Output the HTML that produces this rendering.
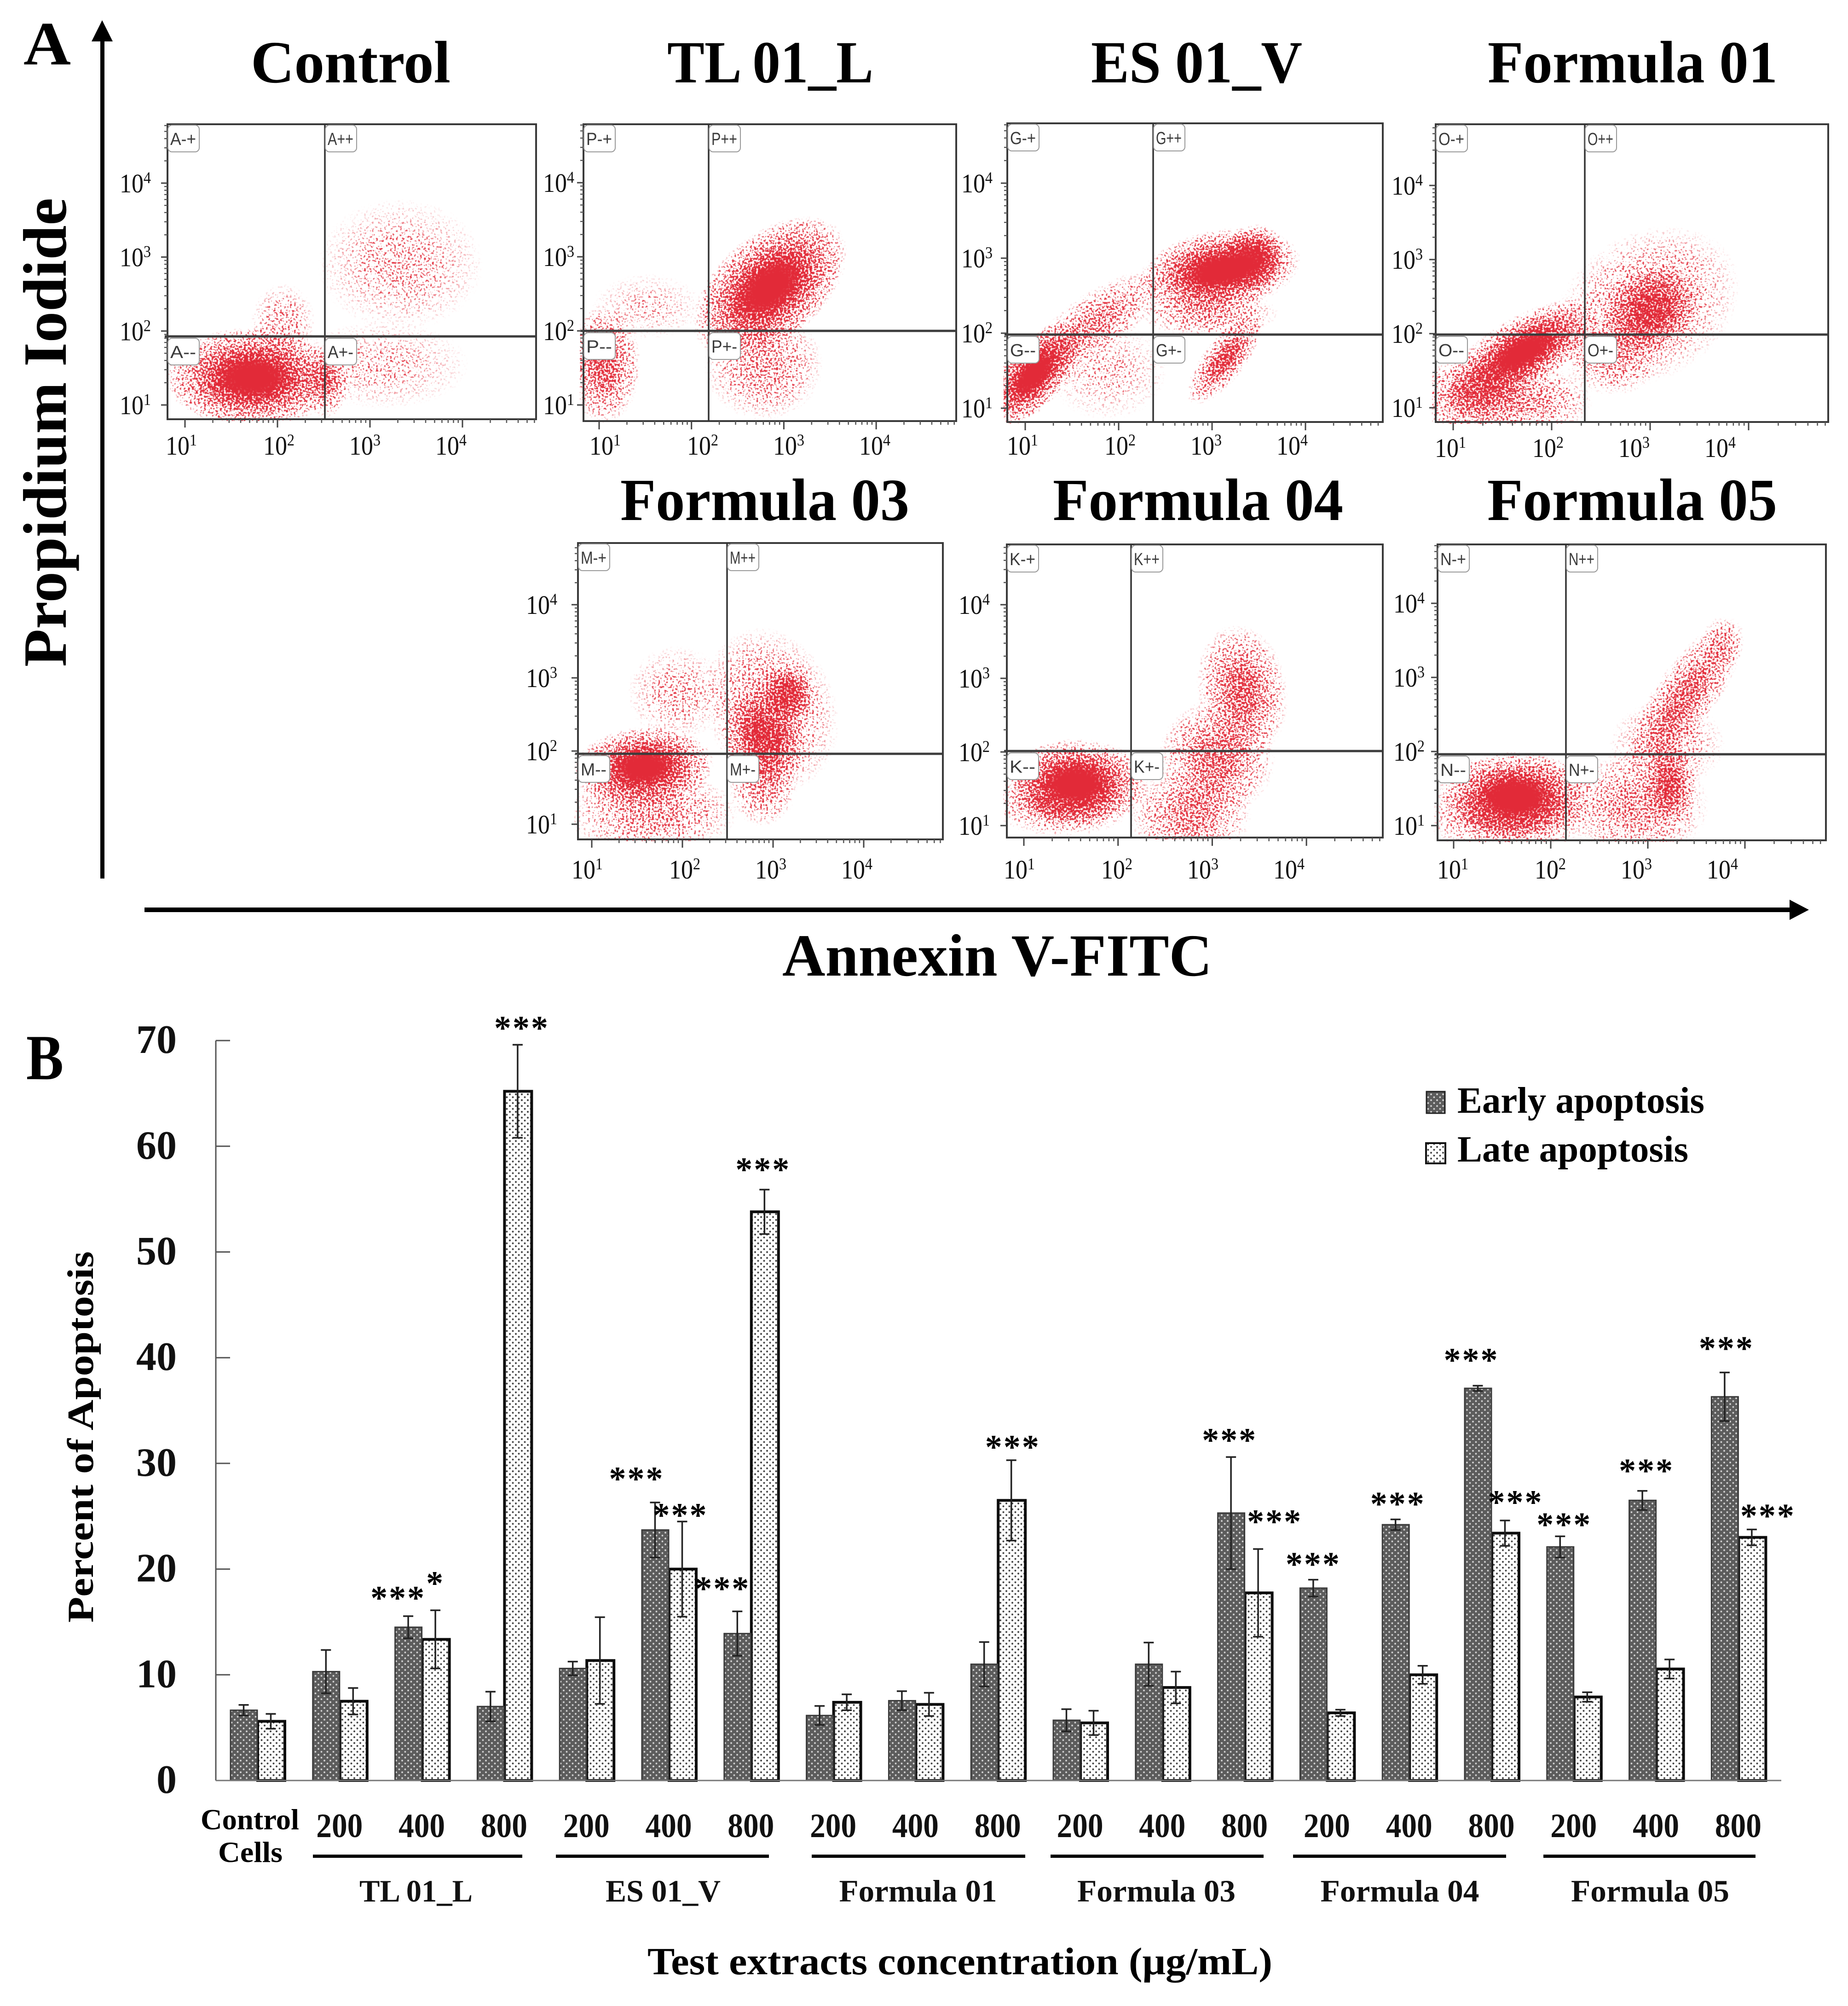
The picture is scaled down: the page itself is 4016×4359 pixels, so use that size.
<!DOCTYPE html>
<html lang="en">
<head>
<meta charset="utf-8">
<title>Apoptosis flow cytometry and bar chart</title>
<style>
html,body{margin:0;padding:0;background:#fff;width:4016px;height:4359px;overflow:hidden}
svg{display:block;font-family:"Liberation Serif",serif}
</style>
</head>
<body>
<svg id="figure" xmlns="http://www.w3.org/2000/svg" width="4016" height="4359" viewBox="0 0 4016 4359">
  <defs>
    <radialGradient id="cloud">
      <stop offset="0" stop-color="#e0283a" stop-opacity="1"/>
      <stop offset="0.3" stop-color="#e0283a" stop-opacity="0.9"/>
      <stop offset="0.52" stop-color="#e0283a" stop-opacity="0.55"/>
      <stop offset="0.76" stop-color="#e0283a" stop-opacity="0.28"/>
      <stop offset="1" stop-color="#e0283a" stop-opacity="0"/>
    </radialGradient>
    <pattern id="early-dots" patternUnits="userSpaceOnUse" width="13" height="12.7">
      <rect width="13" height="12.7" fill="#5c5c5c"/>
      <circle cx="3" cy="3" r="1.9" fill="#d4d4d4"/>
      <circle cx="9.5" cy="9.3" r="1.9" fill="#d4d4d4"/>
    </pattern>
    <pattern id="late-dots" patternUnits="userSpaceOnUse" width="13" height="12.7">
      <rect width="13" height="12.7" fill="#fff"/>
      <circle cx="3" cy="3" r="2" fill="#444"/>
      <circle cx="9.5" cy="9.3" r="2" fill="#444"/>
    </pattern>
  </defs>
  <rect width="4016" height="4359" fill="#fff"/>

  <text x="51" y="140" font-size="134" font-weight="bold" textLength="103" lengthAdjust="spacingAndGlyphs">A</text>
  <text x="57" y="2345" font-size="140" font-weight="bold" textLength="81" lengthAdjust="spacingAndGlyphs">B</text>

  <text x="545" y="179" font-size="130" font-weight="bold" textLength="434" lengthAdjust="spacingAndGlyphs">Control</text>
  <text x="1450" y="179" font-size="130" font-weight="bold" textLength="448" lengthAdjust="spacingAndGlyphs">TL 01_L</text>
  <text x="2371" y="179" font-size="130" font-weight="bold" textLength="459" lengthAdjust="spacingAndGlyphs">ES 01_V</text>
  <text x="3233" y="179" font-size="130" font-weight="bold" textLength="630" lengthAdjust="spacingAndGlyphs">Formula 01</text>
  <text x="1348" y="1130" font-size="130" font-weight="bold" textLength="628" lengthAdjust="spacingAndGlyphs">Formula 03</text>
  <text x="2288" y="1130" font-size="130" font-weight="bold" textLength="631" lengthAdjust="spacingAndGlyphs">Formula 04</text>
  <text x="3232" y="1130" font-size="130" font-weight="bold" textLength="630" lengthAdjust="spacingAndGlyphs">Formula 05</text>

  <text transform="translate(143 1449) rotate(-90)" font-size="134" font-weight="bold" textLength="1019" lengthAdjust="spacingAndGlyphs">Propidium Iodide</text>
  <text x="1700" y="2120" font-size="130" font-weight="bold" textLength="934" lengthAdjust="spacingAndGlyphs">Annexin V-FITC</text>

  <rect x="218" y="85" width="9" height="1824" fill="#000"/>
  <polygon points="222,44 199,90 245,90" fill="#000"/>
  <rect x="314" y="1972" width="3580" height="10" fill="#000"/>
  <polygon points="3931,1977 3889,1955 3889,1999" fill="#000"/>

  <g id="panels"></g>
  <g id="chart"></g>

  <text transform="translate(202 3526) rotate(-90)" font-size="80" font-weight="bold" textLength="807" lengthAdjust="spacingAndGlyphs">Percent of Apoptosis</text>
  <text x="1407" y="4290" font-size="84" font-weight="bold" textLength="1358" lengthAdjust="spacingAndGlyphs">Test extracts concentration (μg/mL)</text>
  <text x="436" y="3975" font-size="64" font-weight="bold" textLength="214" lengthAdjust="spacingAndGlyphs">Control</text>
  <text x="474" y="4046" font-size="64" font-weight="bold" textLength="140" lengthAdjust="spacingAndGlyphs">Cells</text>

  <rect x="3100" y="2372" width="40" height="47" fill="url(#early-dots)" stroke="#222" stroke-width="3"/>
  <text x="3167" y="2418" font-size="80" font-weight="bold" textLength="537" lengthAdjust="spacingAndGlyphs">Early apoptosis</text>
  <rect x="3099" y="2484" width="42" height="44" fill="url(#late-dots)" stroke="#111" stroke-width="4"/>
  <text x="3167" y="2524" font-size="80" font-weight="bold" textLength="502" lengthAdjust="spacingAndGlyphs">Late apoptosis</text>

<script>
// ---------- Bar chart data (percent of apoptosis) ----------
const yTickValues = [0, 10, 20, 30, 40, 50, 60, 70];
const concentrationLabels = ['', '200', '400', '800', '200', '400', '800', '200', '400', '800', '200', '400', '800', '200', '400', '800', '200', '400', '800'];
const groupLabels = ['TL 01_L', 'ES 01_V', 'Formula 01', 'Formula 03', 'Formula 04', 'Formula 05'];
const earlyValues = [6.65, 10.3, 14.5, 7.0, 10.6, 23.7, 13.9, 6.15, 7.55, 11.0, 5.7, 11.0, 25.3, 18.2, 24.2, 37.1, 22.1, 26.5, 36.3];
const lateValues = [5.6, 7.5, 13.35, 65.2, 11.35, 20.0, 53.8, 7.4, 7.2, 26.5, 5.45, 8.8, 17.75, 6.4, 10.0, 23.4, 7.9, 10.55, 23.0];
const earlyErrors = [0.5, 2.05, 1.05, 1.4, 0.65, 2.6, 2.1, 0.9, 0.9, 2.1, 1.05, 2.05, 5.3, 0.8, 0.5, 0.25, 1.0, 0.9, 2.3];
const lateErrors = [0.7, 1.25, 2.75, 4.4, 4.1, 4.5, 2.1, 0.75, 1.1, 3.8, 1.15, 1.5, 4.15, 0.3, 0.85, 1.2, 0.45, 0.9, 0.75];

// ---------- Flow-cytometry event clouds. Each row summarises one visible population:
// [log10 Annexin centre, log10 PI centre, spread in x decades, spread in y decades, tilt degrees, density 0-1]
const controlClusters = [[1.73, 1.37, 0.95, 0.68, 0, 1], [2.53, 1.32, 0.25, 0.5, 0, 0.45], [2.06, 2.1, 0.35, 0.55, 0, 0.24], [3.33, 2.9, 0.9, 0.9, 0, 0.2], [3.13, 1.54, 0.95, 0.6, 0, 0.16]];
const tlClusters = [[2.85, 2.59, 0.98, 0.72, -40, 1], [2.78, 1.54, 0.65, 0.75, 0, 0.32], [1.05, 1.54, 0.4, 0.8, 0, 0.55], [1.52, 2.33, 0.6, 0.45, 0, 0.13]];
const esClusters = [[3.08, 2.83, 0.88, 0.55, -10, 1], [3.44, 3.0, 0.38, 0.42, -50, 0.8], [1.09, 1.45, 0.72, 0.42, -48, 1], [1.75, 2.14, 0.85, 0.4, -35, 0.42], [3.14, 1.66, 0.6, 0.28, -52, 0.65], [1.87, 1.49, 0.65, 0.65, 0, 0.16], [2.96, 2.27, 0.75, 0.32, 0, 0.36]];
const f01Clusters = [[1.71, 1.75, 0.88, 0.48, -30, 1], [1.2, 1.14, 0.6, 0.55, 0, 0.52], [1.77, 1.1, 0.65, 0.48, 0, 0.36], [3.02, 2.32, 0.55, 0.6, -35, 0.62], [2.97, 2.37, 1.0, 1.0, -30, 0.32], [2.62, 1.71, 0.5, 0.55, 0, 0.32]];
const f03Clusters = [[1.57, 1.78, 0.78, 0.55, -5, 1], [1.66, 1.16, 0.95, 0.6, 0, 0.34], [2.89, 2.18, 0.45, 0.7, -25, 0.7], [3.17, 2.79, 0.32, 0.42, 0, 0.7], [2.98, 2.57, 0.72, 1.15, -20, 0.36], [1.94, 2.79, 0.55, 0.65, 0, 0.2], [2.89, 1.56, 0.38, 0.6, 0, 0.38]];
const f04Clusters = [[1.55, 1.58, 0.78, 0.6, 0, 1], [1.41, 1.27, 0.75, 0.42, 0, 0.42], [3.32, 2.84, 0.48, 0.9, -10, 0.55], [3.05, 1.92, 0.62, 0.8, 0, 0.5], [2.77, 1.14, 0.65, 0.65, 0, 0.42]];
const f05Clusters = [[1.64, 1.4, 0.82, 0.6, 0, 1], [1.55, 1.09, 0.85, 0.48, 0, 0.42], [3.39, 2.75, 0.95, 0.42, -55, 0.52], [3.76, 3.44, 0.22, 0.38, 0, 0.25], [3.23, 1.57, 0.28, 0.6, 0, 0.58], [2.88, 1.27, 0.75, 0.75, 0, 0.36], [3.2, 2.1, 0.6, 0.6, 0, 0.24]];
const decadeExponents = ['1', '2', '3', '4'];

const NS = 'http://www.w3.org/2000/svg';
const defs = document.querySelector('#figure defs');
const panelsRoot = document.getElementById('panels');
const chartRoot = document.getElementById('chart');

function make(tag, attrs, parent) {
  const el = document.createElementNS(NS, tag);
  for (const key in attrs) el.setAttribute(key, attrs[key]);
  if (parent) parent.appendChild(el);
  return el;
}

function stippleFilter(id, seed, x, y, w, h) {
  const f = make('filter', {id: id, filterUnits: 'userSpaceOnUse', x: x, y: y, width: w, height: h, 'color-interpolation-filters': 'sRGB'}, defs);
  make('feTurbulence', {type: 'fractalNoise', baseFrequency: '0.23', numOctaves: '2', seed: seed, result: 'noise'}, f);
  make('feColorMatrix', {in: 'noise', type: 'matrix', values: '0 0 0 0 0 0 0 0 0 0 0 0 0 0 0 0 0 0 3 -1', result: 'stretched'}, f);
  make('feComposite', {in: 'SourceGraphic', in2: 'stretched', operator: 'arithmetic', k1: '0', k2: '1.25', k3: '1', k4: '-1', result: 'stipple'}, f);
  const transfer = make('feComponentTransfer', {in: 'stipple', result: 'mask'}, f);
  make('feFuncA', {type: 'linear', slope: '6', intercept: '0'}, transfer);
  make('feFlood', {'flood-color': '#e22a38', result: 'ink'}, f);
  make('feComposite', {in: 'ink', in2: 'mask', operator: 'in', result: 'dots'}, f);
  make('feGaussianBlur', {in: 'dots', stdDeviation: '0.6'}, f);
}

function quadrantBox(parent, name, label, x, y) {
  const box = make('rect', {x: x, y: y, width: 68, height: 58, rx: 9, fill: '#fff', stroke: '#999', 'stroke-width': 2}, parent);
  
  
  const t = make('text', {x: x + 5, y: y + 43, 'font-size': 38, fill: '#3a3a3a', textLength: 56, lengthAdjust: 'spacingAndGlyphs', 'font-family': '"Liberation Sans", sans-serif'}, parent);
  t.textContent = label;
  
  
}

function drawPanel(name, letter, clusters, seed, left, top, right, bottom, vLine, hLine, x10, dx, y10, dy, labelX, labelBase, labelRight) {
  const xLog = v => x10 + (v - 1) * dx;
  const yLog = v => y10 - (v - 1) * dy;
  const g = make('g', {}, panelsRoot);
  
  

  const clipId = 'clip-' + name;
  const clip = make('clipPath', {id: clipId}, defs);
  make('rect', {x: left - 8, y: top, width: right - left + 8, height: bottom - top + 4}, clip);
  const filterId = 'stipple-' + name;
  stippleFilter(filterId, seed, left - 10, top - 10, right - left + 20, bottom - top + 20);

  const clipGroup = make('g', {'clip-path': 'url(#' + clipId + ')'}, g);
  const cloudGroup = make('g', {filter: 'url(#' + filterId + ')'}, clipGroup);
  
  
  clusters.forEach(function (c, i) {
    const cx = xLog(c[0]);
    const cy = yLog(c[1]);
    const e = make('ellipse', {cx: cx, cy: cy, rx: c[2] * dx, ry: c[3] * dy, fill: 'url(#cloud)', opacity: c[5], transform: 'rotate(' + c[4] + ' ' + cx + ' ' + cy + ')'}, cloudGroup);
    
    
  });

  const frame = make('rect', {x: left, y: top, width: right - left, height: bottom - top, fill: 'none', stroke: '#3a3a3a', 'stroke-width': 4}, g);
  
  
  const vGate = make('line', {x1: vLine, x2: vLine, y1: top, y2: bottom, stroke: '#333', 'stroke-width': 3.5}, g);
  
  
  const hGate = make('line', {x1: left - 6, x2: right, y1: hLine, y2: hLine, stroke: '#3c3c3c', 'stroke-width': 5}, g);
  
  

  decadeExponents.forEach(function (exp, i) {
    const decade = i + 1;
    const px = xLog(decade);
    const py = yLog(decade);
    const tx = make('line', {x1: px, x2: px, y1: bottom, y2: bottom + 18, stroke: '#444', 'stroke-width': 3}, g);
    
    
    const ty = make('line', {x1: left - 14, x2: left, y1: py, y2: py, stroke: '#444', 'stroke-width': 3}, g);
    
    
    [2, 3, 4, 5, 6, 7, 8, 9].forEach(function (m) {
      const ml = decade + Math.log10(m);
      const mx = xLog(ml);
      const my = yLog(ml);
      if (mx < right) make('line', {x1: mx, x2: mx, y1: bottom, y2: bottom + 8, stroke: '#555', 'stroke-width': 2.5}, g);
      if (my > top) make('line', {x1: left - 7, x2: left, y1: my, y2: my, stroke: '#555', 'stroke-width': 2.5}, g);
    });

    const xt = make('text', {x: labelX + [0, 212, 399, 586][i], y: labelBase, 'font-size': 58, 'text-anchor': 'middle', fill: '#111', textLength: 68, lengthAdjust: 'spacingAndGlyphs'}, g);
    
    
    xt.appendChild(document.createTextNode('10'));
    make('tspan', {dy: -20, 'font-size': 36}, xt).textContent = exp;

    const yt = make('text', {x: labelRight, y: py + 20, 'font-size': 58, 'text-anchor': 'end', fill: '#111', textLength: 68, lengthAdjust: 'spacingAndGlyphs'}, g);
    
    
    yt.appendChild(document.createTextNode('10'));
    make('tspan', {dy: -20, 'font-size': 36}, yt).textContent = exp;
  });

  quadrantBox(g, name + '-upper-left', letter + '-+', left + 1, top + 2);
  quadrantBox(g, name + '-upper-right', letter + '++', vLine + 1, top + 2);
  quadrantBox(g, name + '-lower-left', letter + '--', left + 1, hLine + 4);
  quadrantBox(g, name + '-lower-right', letter + '+-', vLine + 1, hLine + 4);
}

drawPanel('control', 'A', controlClusters, 3, 364, 270, 1165, 911, 706, 731, 402, 201, 880, 160.7, 394, 988, 328);
drawPanel('tl-01-l', 'P', tlClusters, 7, 1268, 270, 2078, 915, 1540, 719, 1302, 200.7, 880, 161, 1315, 988, 1248);
drawPanel('es-01-v', 'G', esClusters, 11, 2189, 268, 3005, 917, 2506, 727, 2228, 203, 887, 163, 2222, 988, 2157);
drawPanel('formula-01', 'O', f01Clusters, 17, 3120, 270, 3973, 917, 3444, 727, 3158, 214, 886, 161, 3152, 993, 3092);
drawPanel('formula-03', 'M', f03Clusters, 23, 1256, 1180, 2049, 1824, 1580, 1638, 1286, 197, 1791, 159, 1276, 1909, 1211);
drawPanel('formula-04', 'K', f04Clusters, 29, 2188, 1183, 3005, 1820, 2458, 1632, 2225, 204.7, 1794, 160, 2215, 1909, 2151);
drawPanel('formula-05', 'N', f05Clusters, 31, 3124, 1183, 3968, 1826, 3403, 1639, 3159, 211, 1794, 161, 3157, 1909, 3096);

// ---------- Bar chart axes ----------
const yVal = v => 3869 - v * 22.97;
const xBand = i => 500 + i * 178.8;
const barWidth = 59;

const yAxisLine = make('line', {x1: 469, x2: 469, y1: yVal(70), y2: yVal(0), stroke: '#555', 'stroke-width': 3}, chartRoot);


yTickValues.forEach(function (v) {
  const t = make('line', {x1: 469, x2: 500, y1: yVal(v), y2: yVal(v), stroke: '#555', 'stroke-width': 3}, chartRoot);
  
  
  const l = make('text', {x: 384, y: yVal(v) + 27, 'font-size': 88, 'font-weight': 'bold', 'text-anchor': 'end', fill: '#111'}, chartRoot);
  l.textContent = String(v);
  
  
});

function drawBar(i, series, value, err) {
  const x = xBand(i) + (series === 'early' ? 0 : barWidth);
  const w = series === 'early' ? barWidth - 1 : barWidth;
  const bar = make('rect', {x: x + 1, y: yVal(value), width: w, height: yVal(0) - yVal(value), fill: series === 'early' ? 'url(#early-dots)' : 'url(#late-dots)', stroke: series === 'early' ? '#3a3a3a' : '#0c0c0c', 'stroke-width': series === 'early' ? 3 : 6}, chartRoot);
  
  
  const cx = x + barWidth / 2;
  const top = yVal(value + err);
  const low = yVal(value - err);
  const stem = make('line', {x1: cx, x2: cx, y1: top, y2: low, stroke: '#222', 'stroke-width': 3.5}, chartRoot);
  
  
  const capTop = make('line', {x1: cx - 11, x2: cx + 11, y1: top, y2: top, stroke: '#222', 'stroke-width': 3.5}, chartRoot);
  
  
  const capLow = make('line', {x1: cx - 11, x2: cx + 11, y1: low, y2: low, stroke: '#222', 'stroke-width': 3.5}, chartRoot);
  
  
}

lateValues.forEach(function (v, i) { drawBar(i, 'late', v, lateErrors[i]); });
earlyValues.forEach(function (v, i) { drawBar(i, 'early', v, earlyErrors[i]); });

const xAxisLine = make('line', {x1: 469, x2: 3871, y1: yVal(0), y2: yVal(0), stroke: '#777', 'stroke-width': 3}, chartRoot);



concentrationLabels.forEach(function (label, i) {
  if (!label) return;
  const t = make('text', {x: xBand(i) + 59, y: 3992, 'font-size': 74, 'font-weight': 'bold', 'text-anchor': 'middle', fill: '#111', textLength: 101, lengthAdjust: 'spacingAndGlyphs'}, chartRoot);
  t.textContent = label;
  
  
});

function drawGroup(index, lineStart, lineEnd, nameCentre, nameWidth) {
  const bar = make('rect', {x: lineStart, y: 4030, width: lineEnd - lineStart, height: 7, fill: '#000'}, chartRoot);
  
  
  const t = make('text', {x: nameCentre, y: 4132, 'font-size': 68, 'font-weight': 'bold', 'text-anchor': 'middle', fill: '#111', textLength: nameWidth, lengthAdjust: 'spacingAndGlyphs'}, chartRoot);
  t.textContent = groupLabels[index];
  
  
}
drawGroup(0, 680, 1135, 904, 246);
drawGroup(1, 1208, 1671, 1441, 250);
drawGroup(2, 1764, 2228, 1995, 343);
drawGroup(3, 2283, 2746, 2513, 344);
drawGroup(4, 2810, 3273, 3042, 345);
drawGroup(5, 3354, 3815, 3586, 344);

function star(i, series, text, dx, gap) {
  const value = series === 'early' ? earlyValues[i] + earlyErrors[i] : lateValues[i] + lateErrors[i];
  const cx = xBand(i) + (series === 'early' ? 0 : barWidth) + barWidth / 2 + dx;
  const t = make('text', {x: cx, y: yVal(value) - gap + 31, 'font-size': 74, 'font-weight': 'bold', 'letter-spacing': 3, 'text-anchor': 'middle', fill: '#000'}, chartRoot);
  t.textContent = text;
  
  
}
star(2, 'early', '***', -22, 46);
star(2, 'late', '*', 0, 65);
star(3, 'late', '***', 9, 43);
star(5, 'early', '***', -40, 58);
star(5, 'late', '***', -4, 20);
star(6, 'early', '***', -32, 56);
star(6, 'late', '***', -3, 50);
star(9, 'late', '***', 3, 35);
star(12, 'early', '***', -3, 43);
star(12, 'late', '***', 36, 66);
star(13, 'early', '***', 0, 40);
star(14, 'early', '***', 5, 40);
star(15, 'early', '***', -14, 62);
star(15, 'late', '***', 23, 46);
star(16, 'early', '***', 9, 32);
star(17, 'early', '***', 9, 50);
star(18, 'early', '***', 4, 59);
star(18, 'late', '***', 35, 36);
</script>
</svg>
</body>
</html>
